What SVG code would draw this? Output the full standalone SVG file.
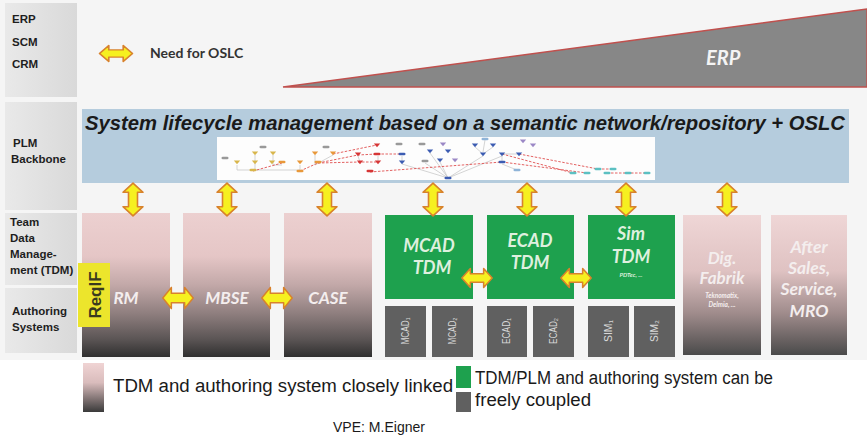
<svg xmlns="http://www.w3.org/2000/svg" width="867" height="438" viewBox="0 0 867 438">
  <defs>
    <style>
      .lbl { font-family: "Liberation Sans", Arial, sans-serif; font-weight: bold; font-size: 11.5px; fill: #1e1e1e; }
      .box-t { font-family: Lato, "Open Sans", sans-serif; font-weight: bold; font-style: italic; fill: #f4eeee; text-anchor: middle; }
      .grn-t { font-family: Lato, "Open Sans", sans-serif; font-weight: bold; font-style: italic; fill: #dff0df; text-anchor: middle; }
      .small-t { font-family: "Liberation Sans", Arial, sans-serif; font-size: 10px; fill: #d8d8d8; text-anchor: middle; }
      .leg { font-family: "Liberation Sans Narrow", "Liberation Sans", Arial, sans-serif; font-size: 18px; fill: #1a1a1a; }
      .arrow { fill: #f6f020; stroke: #d8822c; stroke-width: 1.6; stroke-linejoin: round; }
      .gbox { fill: #606060; }
      .green { fill: #1ea14e; }
      .side { fill: url(#sideGrad); }
      .edge { fill: none; stroke: #b9b9b9; stroke-width: 0.6; }
      .dash { fill: none; stroke: #e05050; stroke-width: 0.9; stroke-dasharray: 2.5 1.5; }
    </style>
    <linearGradient id="pinkGrad" x1="0" y1="0" x2="0" y2="1">
      <stop offset="0" stop-color="#ecd0d0"/>
      <stop offset="0.3" stop-color="#e5c6c6"/>
      <stop offset="0.5" stop-color="#c2a8a8"/>
      <stop offset="0.7" stop-color="#8e7e7e"/>
      <stop offset="0.88" stop-color="#5a5454"/>
      <stop offset="1" stop-color="#2f2f2f"/>
    </linearGradient>
    <linearGradient id="pinkGradLight" x1="0" y1="0" x2="0" y2="1">
      <stop offset="0" stop-color="#efd6d6"/>
      <stop offset="0.4" stop-color="#dfc2c2"/>
      <stop offset="0.7" stop-color="#a08c8c"/>
      <stop offset="1" stop-color="#4a4a4a"/>
    </linearGradient>
    <linearGradient id="sideGrad" x1="0" y1="0" x2="1" y2="0">
      <stop offset="0" stop-color="#e9e9e9"/>
      <stop offset="0.5" stop-color="#e1e1e1"/>
      <stop offset="1" stop-color="#d9d9d9"/>
    </linearGradient>
    <linearGradient id="legGrad" x1="0" y1="0" x2="0" y2="1">
      <stop offset="0" stop-color="#f0d4d4"/>
      <stop offset="0.4" stop-color="#d9bcbc"/>
      <stop offset="1" stop-color="#3a3a3a"/>
    </linearGradient>
    <!-- double-headed arrow, horizontal, 32 x 20 -->
    <path id="dbl" d="M-16,0 L-7,-10 L-7,-4.5 L7,-4.5 L7,-10 L16,0 L7,10 L7,4.5 L-7,4.5 L-7,10 Z"/>
    <!-- graph node shapes -->
    <path id="tri" d="M-3.2,-1.6 L3.2,-1.6 L0,2.2 Z"/>
    <rect id="pill" x="-3.5" y="-1.3" width="7" height="2.6" rx="1.3"/>
  </defs>

  <!-- background -->
  <rect x="0" y="0" width="867" height="438" fill="#ffffff"/>
  <rect x="0" y="0" width="867" height="360" fill="#f5f5f5"/>

  <!-- row labels -->
  <g id="row-erp">
    <rect class="side" x="5" y="3" width="72" height="94"/>
    <text class="lbl" x="12" y="23">ERP</text>
    <text class="lbl" x="12" y="46">SCM</text>
    <text class="lbl" x="12" y="68">CRM</text>
  </g>
  <g id="row-plm">
    <rect class="side" x="5" y="102" width="72" height="108"/>
    <text class="lbl" x="13" y="147">PLM</text>
    <text class="lbl" x="11" y="163">Backbone</text>
  </g>
  <g id="row-tdm">
    <rect class="side" x="5" y="213" width="72" height="72"/>
    <text class="lbl" x="10" y="226">Team</text>
    <text class="lbl" x="10" y="242">Data</text>
    <text class="lbl" x="10" y="258">Manage-</text>
    <text class="lbl" x="10" y="274">ment (TDM)</text>
  </g>
  <g id="row-auth">
    <rect class="side" x="5" y="288" width="72" height="65"/>
    <text class="lbl" x="12" y="315">Authoring</text>
    <text class="lbl" x="12" y="331">Systems</text>
  </g>

  <!-- key: need for OSLC -->
  <g id="key-oslc">
    <use href="#dbl" class="arrow" transform="translate(116,53.5) scale(1.03,0.8)"/>
    <text x="150" y="58" font-family="Lato, 'Open Sans', sans-serif" font-weight="bold" font-size="14" fill="#333">Need for OSLC</text>
  </g>

  <!-- ERP wedge -->
  <g id="erp">
    <path d="M283,87 L867,9 L867,87 Z" fill="#878787" stroke="#c0504d" stroke-width="1.4"/>
    <text x="706" y="65" font-family="Lato, 'Open Sans', sans-serif" font-weight="bold" font-style="italic" font-size="20" fill="#f4f4f4">ERP</text>
  </g>

  <!-- PLM backbone -->
  <g id="backbone">
    <rect x="82" y="109" width="767" height="74" fill="#b5ccdd"/>
    <text x="85" y="130" font-family="'Liberation Sans', Arial, sans-serif" font-weight="bold" font-style="italic" font-size="20" fill="#1a1a1a" textLength="760" lengthAdjust="spacingAndGlyphs">System lifecycle management based on a semantic network/repository + OSLC</text>
    <rect x="217" y="137" width="438" height="43" fill="#fdfdfd"/>
    <!-- semantic network sketch -->
    <g id="network">
      <path class="edge" d="M237,165 L237,170 L300,170 M255,155 L255,170 M273,155 L273,165 L282,165 M300,165 L300,172 M315,155 L315,165 L333,155 M402,156 L402,162 M430,153 L448,178 M440,162 L448,178 M402,164 L448,178 M483,156 L448,178 M502,156 L448,178 M425,163 L448,178 M475,147 L483,154 L493,147 M502,154 L519,154 M502,156 L502,162 M485,140 L483,152 M517,170 L502,164 M378,156 L378,162 M358,156 L360,162"/>
      <path class="dash" d="M253,171 L282,163 M300,171 L318,163 L358,155 L377,154 L402,154 M318,163 L360,162 L378,162 M370,172 L502,162 M333,154 L377,145 M502,154 L573,173 M519,154 L598,169 M502,162 L587,173 M598,169 L613,169 M607,173 L628,173 L647,173"/>
      <g fill="#d8b64c">
        <use href="#tri" x="237" y="162"/><use href="#tri" x="255" y="153"/><use href="#tri" x="255" y="162"/>
        <use href="#pill" x="253" y="170"/><use href="#tri" x="273" y="153"/><use href="#tri" x="272" y="162"/>
      </g>
      <g fill="#e8983a">
        <use href="#pill" x="282" y="162"/><use href="#tri" x="300" y="162"/><use href="#pill" x="300" y="171"/>
        <use href="#tri" x="315" y="153"/><use href="#pill" x="318" y="162"/><use href="#tri" x="333" y="153"/>
      </g>
      <g fill="#d63535">
        <use href="#tri" x="358" y="154"/><use href="#tri" x="377" y="145"/><use href="#pill" x="377" y="154"/>
        <use href="#tri" x="360" y="162"/><use href="#tri" x="378" y="162"/><use href="#pill" x="370" y="171"/>
      </g>
      <g fill="#3c5cb2">
        <use href="#pill" x="402" y="154"/><use href="#tri" x="402" y="162"/><use href="#tri" x="430" y="151"/>
        <use href="#tri" x="448" y="151"/><use href="#tri" x="440" y="160"/><use href="#pill" x="448" y="178"/>
        <use href="#tri" x="475" y="145"/><use href="#tri" x="493" y="145"/><use href="#tri" x="483" y="154"/>
        <use href="#tri" x="502" y="154"/><use href="#tri" x="519" y="154"/><use href="#pill" x="502" y="162"/>
      </g>
      <g fill="#9b88c6">
        <use href="#tri" x="443" y="144"/><use href="#tri" x="455" y="160"/><use href="#tri" x="523" y="141"/><use href="#tri" x="533" y="145"/>
      </g>
      <g fill="#8fb4d8">
        <use href="#pill" x="485" y="139"/><use href="#pill" x="517" y="170"/>
      </g>
      <g fill="#999999">
        <use href="#pill" x="225" y="158"/><use href="#pill" x="263" y="147"/><use href="#pill" x="326" y="147"/>
        <use href="#pill" x="399" y="144"/><use href="#pill" x="422" y="144"/><use href="#pill" x="425" y="161"/>
      </g>
      <g fill="#5cc0c2">
        <use href="#pill" x="573" y="173"/><use href="#pill" x="587" y="173"/><use href="#pill" x="598" y="169"/>
        <use href="#pill" x="613" y="169"/><use href="#pill" x="607" y="173"/><use href="#pill" x="628" y="173"/><use href="#pill" x="647" y="173"/>
      </g>
    </g>
  </g>

  <!-- tightly linked systems -->
  <g id="rm">
    <rect x="82" y="213" width="88" height="144" fill="url(#pinkGrad)"/>
    <text class="box-t" x="126" y="304" font-size="17">RM</text>
  </g>
  <g id="mbse">
    <rect x="183" y="213" width="87" height="144" fill="url(#pinkGrad)"/>
    <text class="box-t" x="227" y="304" font-size="17">MBSE</text>
  </g>
  <g id="case">
    <rect x="284" y="213" width="88" height="144" fill="url(#pinkGrad)"/>
    <text class="box-t" x="328" y="304" font-size="17">CASE</text>
  </g>
  <g id="reqif">
    <rect x="78" y="263" width="32" height="64" fill="#ece52c"/>
    <text transform="translate(101,295) rotate(-90)" text-anchor="middle" font-family="'Liberation Sans', Arial, sans-serif" font-weight="bold" font-size="17" fill="#3a3a1e">ReqIF</text>
  </g>

  <!-- freely coupled TDM systems -->
  <g id="mcad-tdm">
    <rect class="green" x="385" y="215" width="88" height="84"/>
    <text class="grn-t" x="429" y="252" font-size="18">MCAD</text>
    <text class="grn-t" x="432" y="274" font-size="18">TDM</text>
  </g>
  <g id="ecad-tdm">
    <rect class="green" x="487" y="215" width="87" height="84"/>
    <text class="grn-t" x="530" y="247" font-size="18">ECAD</text>
    <text class="grn-t" x="530" y="269" font-size="18">TDM</text>
  </g>
  <g id="sim-tdm">
    <rect class="green" x="588" y="215" width="87" height="84"/>
    <text class="grn-t" x="631" y="240" font-size="18">Sim</text>
    <text class="grn-t" x="631" y="263" font-size="18">TDM</text>
    <text class="grn-t" x="631" y="277" font-size="6">PDTec, ...</text>
  </g>

  <!-- authoring tools -->
  <g id="mcad1"><rect class="gbox" x="385" y="306" width="41" height="51"/><text class="small-t" transform="translate(409,331) rotate(-90)" textLength="27" lengthAdjust="spacingAndGlyphs">MCAD₁</text></g>
  <g id="mcad2"><rect class="gbox" x="432" y="306" width="41" height="51"/><text class="small-t" transform="translate(456,331) rotate(-90)" textLength="27" lengthAdjust="spacingAndGlyphs">MCAD₂</text></g>
  <g id="ecad1"><rect class="gbox" x="487" y="306" width="40" height="51"/><text class="small-t" transform="translate(510,331) rotate(-90)" textLength="26" lengthAdjust="spacingAndGlyphs">ECAD₁</text></g>
  <g id="ecad2"><rect class="gbox" x="533" y="306" width="41" height="51"/><text class="small-t" transform="translate(557,331) rotate(-90)" textLength="26" lengthAdjust="spacingAndGlyphs">ECAD₂</text></g>
  <g id="sim1"><rect class="gbox" x="588" y="306" width="41" height="51"/><text class="small-t" transform="translate(612,331) rotate(-90)" textLength="22" lengthAdjust="spacingAndGlyphs">SIM₁</text></g>
  <g id="sim2"><rect class="gbox" x="634" y="306" width="41" height="51"/><text class="small-t" transform="translate(658,331) rotate(-90)" textLength="22" lengthAdjust="spacingAndGlyphs">SIM₂</text></g>

  <!-- downstream systems -->
  <g id="dig-fabrik">
    <rect x="683" y="215" width="78" height="140" fill="url(#pinkGradLight)"/>
    <text class="box-t" x="722" y="264" font-size="17">Dig.</text>
    <text class="box-t" x="722" y="284" font-size="17">Fabrik</text>
    <text class="box-t" x="722" y="298" font-size="6.5">Teknomatix,</text>
    <text class="box-t" x="722" y="307" font-size="6.5">Delmia, ...</text>
  </g>
  <g id="after-sales">
    <rect x="771" y="215" width="76" height="140" fill="url(#pinkGradLight)"/>
    <text class="box-t" x="809" y="253" font-size="17.5">After</text>
    <text class="box-t" x="809" y="274" font-size="17.5">Sales,</text>
    <text class="box-t" x="809" y="295" font-size="17.5">Service,</text>
    <text class="box-t" x="809" y="317" font-size="17.5">MRO</text>
  </g>

  <!-- connectors -->
  <g id="connectors">
    <use href="#dbl" class="arrow" transform="translate(133,199.5) rotate(90) scale(1.03,1)"/>
    <use href="#dbl" class="arrow" transform="translate(227,199.5) rotate(90) scale(1.03,1)"/>
    <use href="#dbl" class="arrow" transform="translate(327,199.5) rotate(90) scale(1.03,1)"/>
    <use href="#dbl" class="arrow" transform="translate(433,199.5) rotate(90) scale(1.03,1)"/>
    <use href="#dbl" class="arrow" transform="translate(527,199.5) rotate(90) scale(1.03,1)"/>
    <use href="#dbl" class="arrow" transform="translate(626,199.5) rotate(90) scale(1.03,1)"/>
    <use href="#dbl" class="arrow" transform="translate(727,199.5) rotate(90) scale(1.03,1)"/>
    <use href="#dbl" class="arrow" transform="translate(178,298) scale(0.95,1.05)"/>
    <use href="#dbl" class="arrow" transform="translate(277,298) scale(0.95,1.05)"/>
    <use href="#dbl" class="arrow" transform="translate(477,278) scale(0.95,0.95)"/>
    <use href="#dbl" class="arrow" transform="translate(576,278) scale(0.95,0.95)"/>
  </g>

  <!-- legend -->
  <g id="legend">
    <rect x="83" y="363" width="21" height="49" fill="url(#legGrad)"/>
    <text class="leg" x="113" y="392" textLength="340" lengthAdjust="spacingAndGlyphs">TDM and authoring system closely linked</text>
    <rect x="456" y="366" width="15" height="22" fill="#1ea14e"/>
    <rect x="456" y="392" width="15" height="20" fill="#606060"/>
    <text class="leg" x="475" y="384" textLength="298" lengthAdjust="spacingAndGlyphs">TDM/PLM and authoring system can be</text>
    <text class="leg" x="475" y="406" textLength="116" lengthAdjust="spacingAndGlyphs">freely coupled</text>
  </g>
  <text id="credit" x="333" y="432" font-family="'Liberation Sans Narrow', 'Liberation Sans', Arial, sans-serif" font-size="15" fill="#1a1a1a" textLength="92" lengthAdjust="spacingAndGlyphs">VPE: M.Eigner</text>
</svg>
